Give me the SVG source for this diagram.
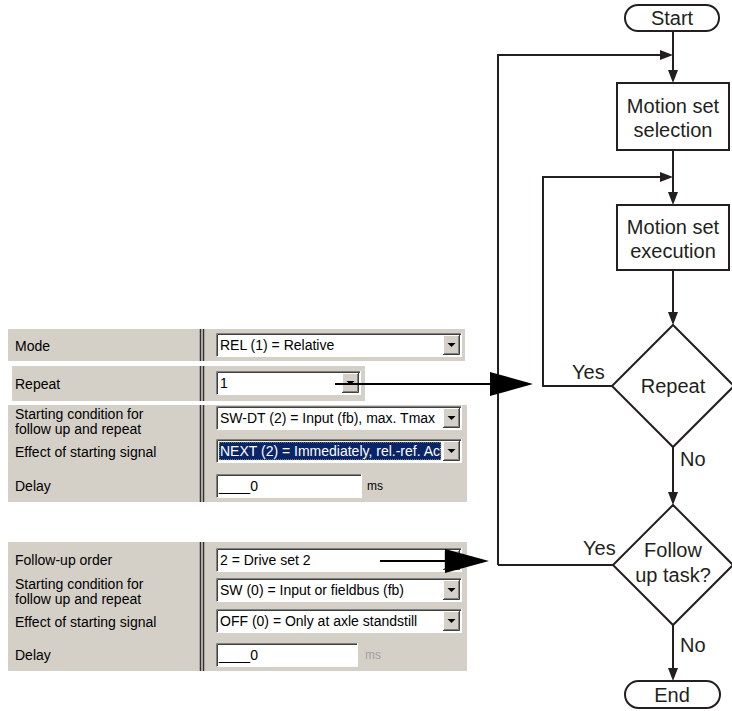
<svg xmlns="http://www.w3.org/2000/svg" xmlns:xlink="http://www.w3.org/1999/xlink" width="732" height="711" viewBox="0 0 732 711">
<style>
.band{fill:#d4d0c8}
.box{fill:#fff}
.sd{stroke:#808080;fill:none;stroke-width:1}
.sdk{stroke:#404040;fill:none;stroke-width:1}
.hl{stroke:#fff;fill:none;stroke-width:1}
.div{stroke:#333;stroke-width:1.5}
.lbl{font-family:"Liberation Sans",Arial,sans-serif;font-size:14px;fill:#000}
.gray{fill:#a0a0a0}
.fc{font-family:"Liberation Sans",Arial,sans-serif;font-size:20px;fill:#231f20;text-anchor:middle}
.fl{font-family:"Liberation Sans",Arial,sans-serif;font-size:20px;fill:#231f20}
.ln{stroke:#231f20;stroke-width:2;fill:none}
.nd{stroke:#231f20;stroke-width:2;fill:#fff}
.big{stroke:#000;stroke-width:2;fill:none}
</style>
<defs>
<marker id="ah" viewBox="0 0 13 10" refX="9" refY="5" markerWidth="13" markerHeight="10" markerUnits="userSpaceOnUse" orient="auto">
<path d="M0 0 L13 5 L0 10 z" fill="#231f20"/>
</marker>
<g id="btn">
<rect x="0" y="0" width="17" height="20" fill="#d4d0c8"/>
<path d="M0.5 20 V0.5 H17" stroke="#fff" fill="none"/>
<path d="M0 19.5 H16.5 V0" stroke="#404040" fill="none"/>
<path d="M1 18.5 H15.5 V1" stroke="#808080" fill="none"/>
<path d="M4.5 8 h8 l-4 4 z" fill="#000"/>
</g>
<clipPath id="nextclip"><rect x="219" y="442" width="222" height="18"/></clipPath>
</defs>

<g id="dialog">
<rect class="band" x="8" y="329" width="457" height="32"/>
<rect class="band" x="12" y="366" width="353" height="35"/>
<rect class="band" x="8" y="405" width="459" height="97"/>
<rect class="band" x="8" y="542" width="459" height="129"/>
<path class="div" d="M200.5 329 V361 M203.5 329 V361 M200.5 366 V401 M203.5 366 V401 M200.5 405 V502 M203.5 405 V502 M200.5 542 V671 M203.5 542 V671"/>

<text class="lbl" x="15" y="351">Mode</text>
<text class="lbl" x="15" y="389">Repeat</text>
<text class="lbl" x="15" y="419">Starting condition for</text>
<text class="lbl" x="15" y="434">follow up and repeat</text>
<text class="lbl" x="15" y="457">Effect of starting signal</text>
<text class="lbl" x="15" y="491">Delay</text>

<text class="lbl" x="15" y="565">Follow-up order</text>
<text class="lbl" x="15" y="589">Starting condition for</text>
<text class="lbl" x="15" y="604">follow up and repeat</text>
<text class="lbl" x="15" y="627">Effect of starting signal</text>
<text class="lbl" x="15" y="660">Delay</text>

<g id="dd-mode">
<rect class="box" x="216" y="333" width="246" height="24"/>
<path class="sd" d="M216.5 357 V333.5 H462"/><path class="sdk" d="M217.5 356 V334.5 H461"/><path class="hl" d="M216.5 356.5 H461.5 V333"/>
<use xlink:href="#btn" x="443" y="335"/>
<text class="lbl" x="220" y="350">REL (1) = Relative</text>
</g>
<g id="dd-repeat">
<rect class="box" x="216" y="371" width="145" height="24"/>
<path class="sd" d="M216.5 395 V371.5 H361"/><path class="sdk" d="M217.5 394 V372.5 H360"/><path class="hl" d="M216.5 394.5 H360.5 V371"/>
<use xlink:href="#btn" x="342" y="373"/>
<text class="lbl" x="220" y="388">1</text>
</g>
<g id="dd-swdt">
<rect class="box" x="216" y="406" width="246" height="24"/>
<path class="sd" d="M216.5 430 V406.5 H462"/><path class="sdk" d="M217.5 429 V407.5 H461"/><path class="hl" d="M216.5 429.5 H461.5 V406"/>
<use xlink:href="#btn" x="443" y="408"/>
<text class="lbl" x="220" y="423">SW-DT (2) = Input (fb), max. Tmax</text>
</g>
<g id="dd-next">
<rect class="box" x="216" y="439" width="246" height="24"/>
<path class="sd" d="M216.5 463 V439.5 H462"/><path class="sdk" d="M217.5 462 V440.5 H461"/><path class="hl" d="M216.5 462.5 H461.5 V439"/>
<rect x="219" y="442" width="222" height="18" fill="#0a246a" stroke="#d8d880" stroke-width="1" stroke-dasharray="1 1"/>
<text class="lbl" x="220" y="456" fill="#fff" style="fill:#fff" clip-path="url(#nextclip)">NEXT (2) = Immediately, rel.-ref. Action</text>
<use xlink:href="#btn" x="443" y="441"/>
</g>
<g id="in-delay1">
<rect class="box" x="216" y="474" width="146" height="24"/>
<path class="sd" d="M216.5 498 V474.5 H362"/><path class="sdk" d="M217.5 497 V475.5 H361"/><path class="hl" d="M216.5 497.5 H361.5 V474"/>
<text class="lbl" x="219" y="491">____0</text>
<text class="lbl" x="367" y="490" style="font-size:12px">ms</text>
</g>

<g id="dd-follow">
<rect class="box" x="216" y="548" width="246" height="24"/>
<path class="sd" d="M216.5 572 V548.5 H462"/><path class="sdk" d="M217.5 571 V549.5 H461"/><path class="hl" d="M216.5 571.5 H461.5 V548"/>
<use xlink:href="#btn" x="443" y="550"/>
<text class="lbl" x="220" y="565">2 = Drive set 2</text>
</g>
<g id="dd-sw">
<rect class="box" x="216" y="578" width="246" height="24"/>
<path class="sd" d="M216.5 602 V578.5 H462"/><path class="sdk" d="M217.5 601 V579.5 H461"/><path class="hl" d="M216.5 601.5 H461.5 V578"/>
<use xlink:href="#btn" x="443" y="580"/>
<text class="lbl" x="220" y="595">SW (0) = Input or fieldbus (fb)</text>
</g>
<g id="dd-off">
<rect class="box" x="216" y="609" width="246" height="24"/>
<path class="sd" d="M216.5 633 V609.5 H462"/><path class="sdk" d="M217.5 632 V610.5 H461"/><path class="hl" d="M216.5 632.5 H461.5 V609"/>
<use xlink:href="#btn" x="443" y="611"/>
<text class="lbl" x="220" y="626">OFF (0) = Only at axle standstill</text>
</g>
<g id="in-delay2">
<rect class="box" x="216" y="643" width="142" height="24"/>
<path class="sd" d="M216.5 667 V643.5 H358"/><path class="sdk" d="M217.5 666 V644.5 H357"/><path class="hl" d="M216.5 666.5 H357.5 V643"/>
<text class="lbl" x="219" y="660">____0</text>
<text class="lbl gray" x="365" y="659" style="font-size:12px;fill:#a0a0a0">ms</text>
</g>
</g>

<g id="connectors">
<path class="ln" d="M673 31 V79" marker-end="url(#ah)"/>
<path class="ln" d="M498 565 V55 H669" marker-end="url(#ah)"/>
<path class="ln" d="M673 150 V201" marker-end="url(#ah)"/>
<path class="ln" d="M612 386 H543 V177 H669" marker-end="url(#ah)"/>
<path class="ln" d="M673 270 V321" marker-end="url(#ah)"/>
<path class="ln" d="M673 447 V501" marker-end="url(#ah)"/>
<path class="ln" d="M498 565 H613"/>
<path class="ln" d="M673 625 V677" marker-end="url(#ah)"/>
<text class="fl" x="572" y="379">Yes</text>
<text class="fl" x="680" y="466">No</text>
<text class="fl" x="583" y="555">Yes</text>
<text class="fl" x="680" y="652">No</text>
<path class="big" d="M335 384 H495"/>
<path d="M490 372 L533 384 L490 396 z" fill="#000"/>
<path class="big" d="M380 561 H450"/>
<path d="M445 549 L489 561 L445 573 z" fill="#000"/>
</g>

<g id="start">
<rect class="nd" x="625" y="5" width="94" height="26" rx="13"/>
<text class="fc" x="672" y="25">Start</text>
</g>
<g id="selection">
<rect class="nd" x="617" y="83" width="112" height="67"/>
<text class="fc" x="673" y="113">Motion set</text>
<text class="fc" x="673" y="137">selection</text>
</g>
<g id="execution">
<rect class="nd" x="617" y="205" width="112" height="65"/>
<text class="fc" x="673" y="234">Motion set</text>
<text class="fc" x="673" y="258">execution</text>
</g>
<g id="repeat">
<path class="nd" d="M673 325 L734 386 L673 447 L612 386 Z"/>
<text class="fc" x="673" y="393">Repeat</text>
</g>
<g id="followup">
<path class="nd" d="M673 505 L733 565 L673 625 L613 565 Z"/>
<text class="fc" x="673" y="557">Follow</text>
<text class="fc" x="673" y="582">up task?</text>
</g>
<g id="end">
<rect class="nd" x="625" y="681" width="95" height="27" rx="13.5"/>
<text class="fc" x="672" y="702">End</text>
</g>
</svg>
